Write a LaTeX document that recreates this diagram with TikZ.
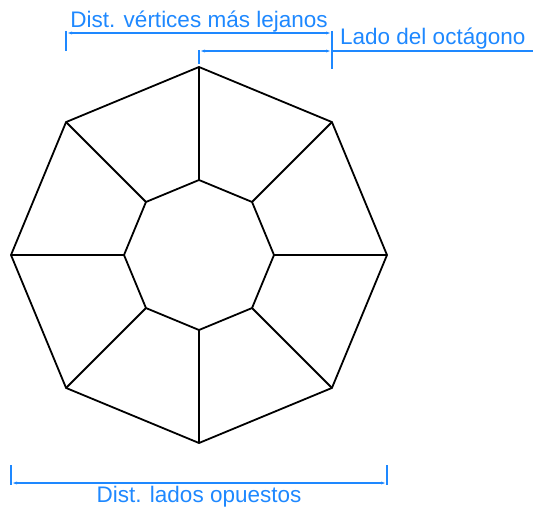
\documentclass[tikz,border=0pt]{standalone}
\usepackage{fontspec}
\setmainfont{Liberation Sans}
\usetikzlibrary{
	arrows.meta,
	calc
}
\definecolor{cota}{RGB}{30,136,255}
\tikzset{
	arista/.style={
		line width=1.8pt,
		black,
		line join=miter
	},
	cota linea/.style={
		line width=1.6pt,
		cota,
		{Latex[length=6pt,width=3pt]}-{Latex[length=6pt,width=3pt]}
	},
	cota marca/.style={
		line width=1.6pt,
		cota
	},
	cota texto/.style={
		text=cota,
		inner sep=0pt,
		font=\fontsize{22.5}{22.5}\selectfont
	}
}

\begin{document}
\begin{tikzpicture}[x=1pt,y=-1pt] %%%%% OCTAGON AMB COTES
		\useasboundingbox (0,0) rectangle (533,512);
		\coordinate (c) at (199,255);
		\foreach \k in {1,...,8} {
			\coordinate (o\k) at ($(c)+({90+45*\k}:188)$);
			\coordinate (i\k) at ($(c)+({90+45*\k}:75)$);
		}
		\draw[arista] (o1) \foreach \k in {2,...,8} {-- (o\k)} -- cycle;
		\draw[arista] (i1) \foreach \k in {2,...,8} {-- (i\k)} -- cycle;
		\foreach \k in {1,...,8} {
			\draw[arista] (i\k) -- (o\k);
		}
		% cotes
		\coordinate (va) at (66,33);
		\coordinate (vb) at (332,33);
		\coordinate (la) at (199,51);
		\coordinate (lb) at (332,51);
		\coordinate (lc) at (533,51);
		\coordinate (oa) at (11,483);
		\coordinate (ob) at (387,483);
		\draw[cota linea] (va) -- (vb);
		\draw[cota linea] (la) -- (lb);
		\draw[cota marca] (lb) -- (lc);
		\draw[cota linea] (oa) -- (ob);
		\draw[cota marca] ($(va)+(0,-2)$) -- ($(va)+(0,18)$);
		\draw[cota marca] ($(vb)+(0,-2)$) -- ($(vb)+(0,36)$);
		\draw[cota marca] ($(la)+(0,-1)$) -- ($(la)+(0,13)$);
		\draw[cota marca] ($(oa)+(0,-18)$) -- ($(oa)+(0,2)$);
		\draw[cota marca] ($(ob)+(0,-18)$) -- ($(ob)+(0,2)$);
		\node[cota texto, anchor=base] (tv) at (199,27) {Dist. vértices más lejanos};
		\node[cota texto, anchor=base west] (tl) at (340,44) {Lado del octágono};
		\node[cota texto, anchor=base] (to) at (199,502) {Dist. lados opuestos};
	\end{tikzpicture}
\end{document}
